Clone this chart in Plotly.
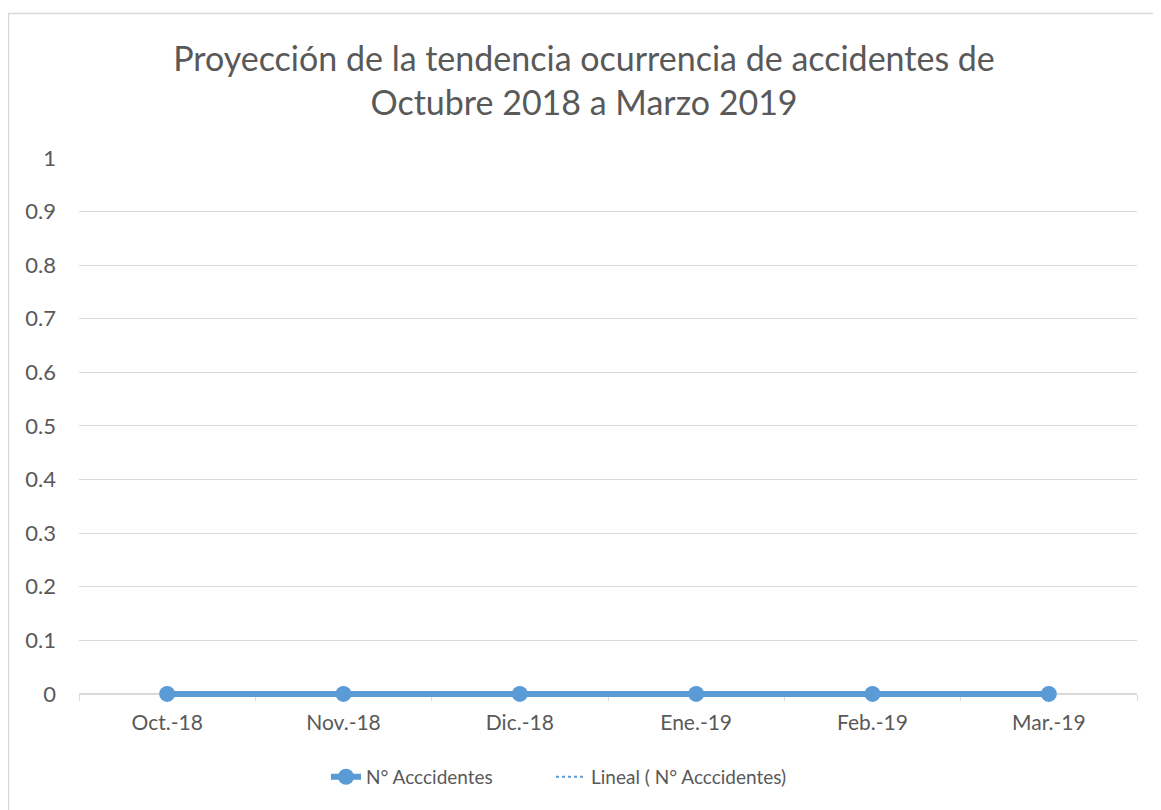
import numpy as np
import plotly.graph_objects as go

categories = ["Oct.-18", "Nov.-18", "Dic.-18", "Ene.-19", "Feb.-19", "Mar.-19"]
accidentes = [0, 0, 0, 0, 0, 0]
y_ticks = [0, 0.1, 0.2, 0.3, 0.4, 0.5, 0.6, 0.7, 0.8, 0.9, 1]

xi = np.arange(len(categories))
coef = np.polyfit(xi, accidentes, 1)
trend = list(np.polyval(coef, xi))

BLUE = "#5B9BD5"
GRAY = "#595959"
FONT = "Lato, Open Sans, sans-serif"

# page body has an 8px offset; work in figure coordinates
OFF = 8
W, H = 1161 - OFF, 810 - OFF
L, R, T, B = 79 - OFF, 1137 - OFF, 158 - OFF, 694 - OFF
YMIN = -0.03
ph1 = B - T                      # px per unit
pb = B + (-YMIN) * ph1           # bottom of plot area in px
pw, ph = R - L, pb - T
def px(x): return (x - L) / pw
def py(y): return (pb - y) / ph

fig = go.Figure()
fig.add_trace(go.Scatter(
    x=categories, y=accidentes, mode="lines+markers", name="N° Acccidentes",
    line=dict(color=BLUE, width=6), marker=dict(color=BLUE, size=16),
    legend="legend",
))
fig.add_trace(go.Scatter(
    x=categories, y=trend, mode="lines", name="Lineal ( N° Acccidentes)",
    line=dict(color=BLUE, width=2, dash="dot"),
    legend="legend2",
))

legend_common = dict(orientation="h", xanchor="left", yanchor="middle",
                     y=py(777 - OFF), font=dict(size=19, color=GRAY),
                     bgcolor="rgba(0,0,0,0)")

fig.update_layout(
    width=W, height=H,
    margin=dict(l=L, r=W - R, t=T, b=H - pb, pad=0),
    paper_bgcolor="white", plot_bgcolor="white",
    font=dict(family=FONT, color=GRAY, size=20),
    title=dict(
        text="Proyección de la tendencia ocurrencia de accidentes de<br>Octubre 2018 a Marzo 2019",
        x=(584 - OFF) / W, xanchor="center", y=1 - (71 - OFF) / H, yanchor="middle",
        font=dict(size=34, color=GRAY, family=FONT),
    ),
    xaxis=dict(
        type="category", range=[-0.5, 5.5], showgrid=False,
        anchor="free", position=(-YMIN) / (1 - YMIN), layer="below traces",
        showline=True, linecolor="#D9D9D9", linewidth=1.5,
        ticks="outside", tickson="boundaries", ticklen=6, tickcolor="#D9D9D9",
        tickfont=dict(size=21, color=GRAY), zeroline=False, ticklabelstandoff=10,
    ),
    yaxis=dict(
        range=[YMIN, 1], tickvals=y_ticks, ticktext=[f"{v:g}" for v in y_ticks],
        showgrid=True, gridcolor="#D9D9D9", gridwidth=1, zeroline=False,
        showline=False, ticks="", ticklabelstandoff=22, layer="below traces",
        tickfont=dict(size=22, color=GRAY),
    ),
    legend=dict(x=px(326 - OFF), **legend_common),
    legend2=dict(x=px(551 - OFF), **legend_common),
    showlegend=True,
    shapes=[dict(
        type="rect", xref="paper", yref="paper",
        x0=px(0.5), x1=px(1151), y0=py(H + 5), y1=py(5.5),
        line=dict(color="#D9D9D9", width=1.5), fillcolor="rgba(0,0,0,0)", layer="below",
    )],
)

fig.write_html("out.html")
